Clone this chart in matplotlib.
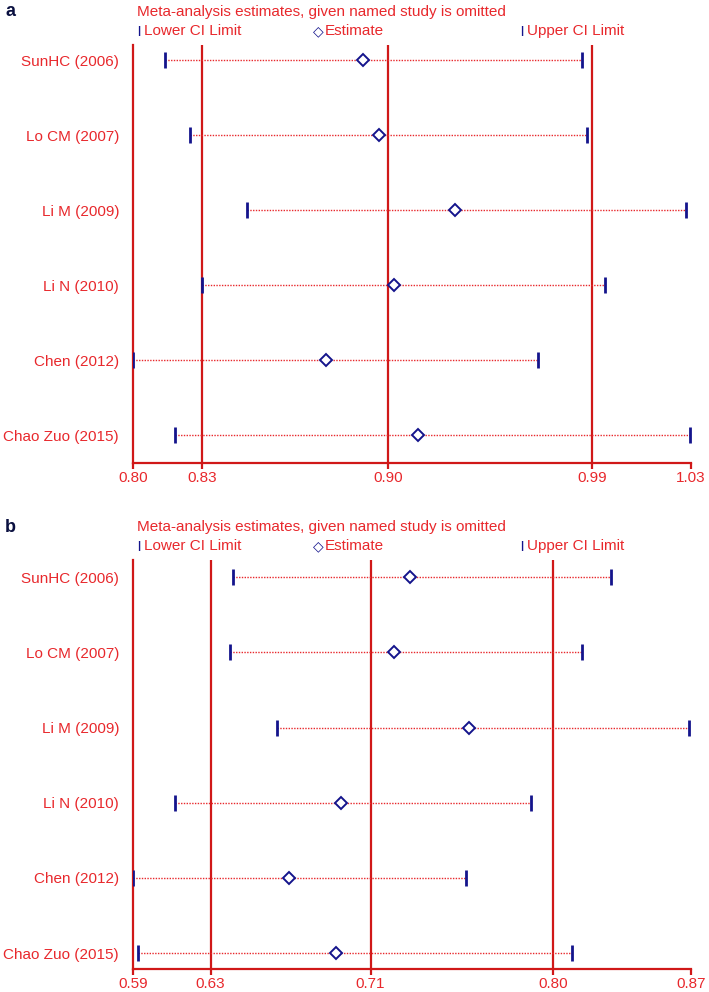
import matplotlib.pyplot as plt

studies = ['SunHC (2006)', 'Lo CM (2007)', 'Li M (2009)', 'Li N (2010)', 'Chen (2012)', 'Chao Zuo (2015)']

# panel a
a_lower = [0.8133, 0.8237, 0.8470, 0.8286, 0.8000, 0.8174]
a_est = [0.8949, 0.9015, 0.9328, 0.9076, 0.8794, 0.9174]
a_upper = [0.9850, 0.9873, 1.0279, 0.9946, 0.9668, 1.0297]
a_ref = [0.8286, 0.9051, 0.9893]
a_ticks = [0.80, 0.8286, 0.9051, 0.9893, 1.03]
a_ticklabels = ['0.80', '0.83', '0.90', '0.99', '1.03']

# panel b
b_lower = [0.6401, 0.6386, 0.6625, 0.6112, 0.5900, 0.5923]
b_est = [0.7288, 0.7210, 0.7584, 0.6945, 0.6681, 0.6918]
b_upper = [0.8299, 0.8152, 0.8690, 0.7897, 0.7573, 0.8103]
b_ref = [0.6289, 0.7092, 0.8007]
b_ticks = [0.59, 0.6289, 0.7092, 0.8007, 0.87]
b_ticklabels = ['0.59', '0.63', '0.71', '0.80', '0.87']

RED = '#e8282c'
LINE = '#d01818'
BLUE = '#14148c'
W, H = 709, 992
plt.rcParams['font.family'] = ['Liberation Sans', 'DejaVu Sans']

fig = plt.figure(figsize=(W / 100, H / 100), dpi=100)


def panel(top, bottom, lower, est, upper, ref, ticks, labels, letter, ylim):
    ax = fig.add_axes([133 / W, 1 - bottom / H, 558 / W, (bottom - top) / H])
    y = list(range(len(studies)))
    ax.hlines(y, lower, upper, colors=RED, linestyles=(0, (1, 1)), lw=1.0, zorder=2)
    for v in ref:
        ax.axvline(v, color=LINE, lw=1.6, zorder=1)
    ax.plot(lower, y, ls='none', marker='|', ms=11, mew=2, color=BLUE, zorder=3)
    ax.plot(upper, y, ls='none', marker='|', ms=11, mew=2, color=BLUE, zorder=3)
    ax.plot(est, y, ls='none', marker='D', ms=6, mew=1.4, mec=BLUE, mfc='white', zorder=4)
    ax.set_xlim(ticks[0], ticks[-1])
    ax.set_ylim(*ylim)
    ax.set_xticks(ticks)
    ax.set_xticklabels(labels)
    ax.set_yticks(y)
    ax.set_yticklabels(studies)
    ax.tick_params(axis='x', colors=LINE, labelcolor=RED, labelsize=11, length=4.5, width=1.6, pad=1.5)
    ax.tick_params(axis='y', length=0, labelcolor=RED, labelsize=11, pad=10)
    for s in ['top', 'right']:
        ax.spines[s].set_visible(False)
    for s in ['left', 'bottom']:
        ax.spines[s].set_color(LINE)
        ax.spines[s].set_linewidth(1.6)
    ty = 1 - (top - 33) / H
    ly = 1 - (top - 14) / H
    fig.text(137 / W, ty, 'Meta-analysis estimates, given named study is omitted',
             color=RED, fontsize=11, va='center')
    fig.text(137 / W, ly, '|', color=BLUE, fontsize=8, va='center', fontweight='bold')
    fig.text(144 / W, ly, 'Lower CI Limit', color=RED, fontsize=11, va='center')
    fig.text(318 / W, ly, '\u25c7', color=BLUE, fontsize=10, va='center', ha='center', fontweight='bold')
    fig.text(325 / W, ly, 'Estimate', color=RED, fontsize=11, va='center')
    fig.text(520 / W, ly, '|', color=BLUE, fontsize=8, va='center', fontweight='bold')
    fig.text(527 / W, ly, 'Upper CI Limit', color=RED, fontsize=11, va='center')
    fig.text(5 / W, ty, letter, color='#0a1040', fontsize=13, fontweight='bold', va='center')
    return ax


panel(45, 463, a_lower, a_est, a_upper, a_ref, a_ticks, a_ticklabels, 'a', (5.37, -0.2))
panel(560, 969, b_lower, b_est, b_upper, b_ref, b_ticks, b_ticklabels, 'b', (5.21, -0.227))

fig.savefig('out.png', dpi=100)
